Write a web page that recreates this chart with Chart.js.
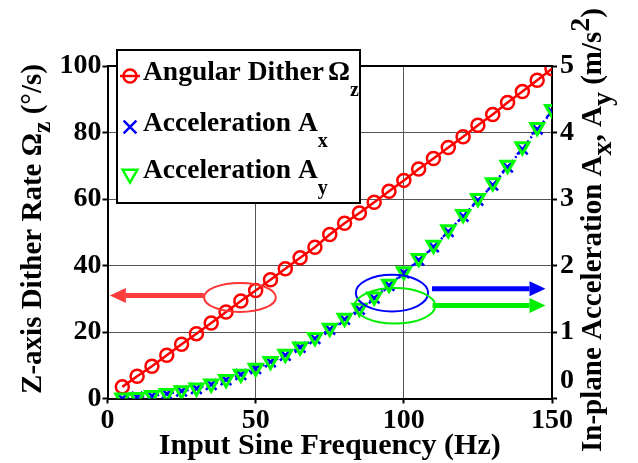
<!DOCTYPE html>
<html>
<head>
<meta charset="utf-8">
<script src="https://cdn.jsdelivr.net/npm/chart.js@4.4.0/dist/chart.umd.min.js"></script>
<style>
  html, body { margin: 0; padding: 0; background: #fff; }
</style>
</head>
<body>
<canvas id="chart" width="638" height="463"></canvas>
<script>
// Data
const frequencies = [5, 10, 15, 20, 25, 30, 35, 40, 45, 50, 55, 60, 65, 70, 75,
                     80, 85, 90, 95, 100, 105, 110, 115, 120, 125, 130, 135, 140, 145, 150];
const ditherRate = [3.5, 6.7, 9.7, 13.0, 16.3, 19.5, 22.7, 26.0, 29.3, 32.5, 35.7, 39.0, 42.3, 45.5, 49.3,
                    52.7, 55.8, 59.0, 62.3, 65.6, 69.0, 72.2, 75.5, 78.7, 82.2, 85.4, 89.0, 92.3, 95.7, 99.2];
const accelX = [0.00, 0.02, 0.04, 0.07, 0.11, 0.15, 0.21, 0.28, 0.36, 0.45, 0.55, 0.65, 0.77, 0.90, 1.04,
                1.19, 1.34, 1.51, 1.70, 1.89, 2.08, 2.28, 2.51, 2.74, 2.98, 3.21, 3.48, 3.75, 4.05, 4.31];
const accelY = [0.01, 0.02, 0.05, 0.08, 0.12, 0.16, 0.22, 0.29, 0.37, 0.46, 0.56, 0.67, 0.78, 0.92, 1.06,
                1.21, 1.36, 1.53, 1.72, 1.91, 2.11, 2.31, 2.54, 2.77, 3.01, 3.25, 3.51, 3.79, 4.08, 4.35];

const xTicks = [0, 50, 100, 150];
const leftTicks = [0, 20, 40, 60, 80, 100];
const rightTicks = [0, 1, 2, 3, 4, 5];

// Ellipses and arrows, in data units
const ellipses = [
    { axis: 'yL', x: 44.7, y: 30.4, rx: 12.1, ry: 4.35, color: '#ff3333' },
    { axis: 'yR', x: 96.0, y: 1.585, rx: 12.2, ry: 0.275, color: '#0000ff' },
    { axis: 'yR', x: 97.0, y: 1.393, rx: 13.6, ry: 0.267, color: '#00ee00' }
];
const arrows = [
    { axis: 'yL', from: 32.5, to: 0.8, y: 31.0, color: '#ff3b3b' },
    { axis: 'yR', from: 109.5, to: 147.8, y: 1.65, color: '#0000ff' },
    { axis: 'yR', from: 109.7, to: 147.8, y: 1.40, color: '#00ee00' }
];

const FONT = '"Liberation Serif", "Times New Roman", serif';

function toPoints(values) {
    return frequencies.map((f, i) => ({ x: f, y: values[i] }));
}

function setTicks(list) {
    return scale => { scale.ticks = list.map(v => ({ value: v })); };
}

// Text with sub/superscripts: parts = [[text, kind]]
function partSize(kind, size, subScale) {
    return kind ? Math.round(size * subScale) : size;
}

function drawRich(ctx, parts, x, y, size, shift, subScale) {
    let cx = x;
    parts.forEach(([t, kind]) => {
        ctx.font = `bold ${partSize(kind, size, subScale)}px ${FONT}`;
        let dy = 0;
        if (kind === 'sub') dy = shift;
        if (kind === 'sup') dy = -size * 0.4;
        if (kind === 'gap') { cx += Number(t); return; }
        ctx.fillText(t, cx, y + dy);
        cx += ctx.measureText(t).width;
    });
    return cx - x;
}

function richWidth(ctx, parts, size, subScale) {
    let w = 0;
    parts.forEach(([t, kind]) => {
        if (kind === 'gap') { w += Number(t); return; }
        ctx.font = `bold ${partSize(kind, size, subScale)}px ${FONT}`;
        w += ctx.measureText(t).width;
    });
    return w;
}

function drawRotated(ctx, parts, cx, cy, size, shift, subScale) {
    const w = richWidth(ctx, parts, size, subScale);
    ctx.save();
    ctx.translate(cx, cy);
    ctx.rotate(-Math.PI / 2);
    ctx.textBaseline = 'alphabetic';
    ctx.textAlign = 'left';
    drawRich(ctx, parts, -w / 2, 0, size, shift, subScale);
    ctx.restore();
}

const decorPlugin = {
    id: 'decor',
    afterDatasetsDraw(chart) {
        const ctx = chart.ctx;
        const xs = chart.scales.x;
        ctx.save();
        ellipses.forEach(e => {
            const ys = chart.scales[e.axis];
            const cx = xs.getPixelForValue(e.x);
            const cy = ys.getPixelForValue(e.y);
            const rx = Math.abs(xs.getPixelForValue(e.x + e.rx) - cx);
            const ry = Math.abs(ys.getPixelForValue(e.y + e.ry) - cy);
            ctx.beginPath();
            ctx.ellipse(cx, cy, rx, ry, 0, 0, Math.PI * 2);
            ctx.strokeStyle = e.color;
            ctx.lineWidth = 2;
            ctx.stroke();
        });
        arrows.forEach(a => {
            const ys = chart.scales[a.axis];
            const x0 = xs.getPixelForValue(a.from);
            const x1 = xs.getPixelForValue(a.to);
            const y = ys.getPixelForValue(a.y);
            const dir = Math.sign(x1 - x0);
            const head = 16;
            ctx.beginPath();
            ctx.moveTo(x0, y);
            ctx.lineTo(x1 - dir * head, y);
            ctx.strokeStyle = a.color;
            ctx.lineWidth = 5;
            ctx.stroke();
            ctx.beginPath();
            ctx.moveTo(x1, y);
            ctx.lineTo(x1 - dir * head, y - 7.5);
            ctx.lineTo(x1 - dir * head, y + 7.5);
            ctx.closePath();
            ctx.fillStyle = a.color;
            ctx.fill();
        });
        ctx.restore();
    },
    afterDraw(chart) {
        const ctx = chart.ctx;
        const area = chart.chartArea;
        const yR = chart.scales.yR;
        ctx.save();

        // top frame line
        ctx.strokeStyle = '#000';
        ctx.lineWidth = 2;
        ctx.beginPath();
        ctx.moveTo(area.left, area.top);
        ctx.lineTo(area.right, area.top);
        ctx.stroke();

        // right axis "0" sits a little above the corner
        ctx.fillStyle = '#000';
        ctx.font = `bold 28px ${FONT}`;
        ctx.textAlign = 'left';
        ctx.textBaseline = 'middle';
        ctx.fillText('0', yR.left + 8, yR.getPixelForValue(0) - 18);

        // axis titles
        ctx.textAlign = 'left';
        ctx.textBaseline = 'alphabetic';
        const xTitle = 'Input Sine Frequency (Hz)';
        ctx.font = `bold 30px ${FONT}`;
        const xw = ctx.measureText(xTitle).width;
        ctx.fillText(xTitle, (area.left + area.right) / 2 - xw / 2, 454);

        drawRotated(ctx, [['Z-axis Dither Rate \u03a9', ''], ['z', 'sub'], [' (\u00b0/s)', '']],
            41, 229, 29, 9, 0.9);
        drawRotated(ctx, [['In-plane Acceleration A', ''], ['x', 'sub'], [', A', ''], ['y', 'sub'],
            [' (m/s', ''], ['2', 'sup'], [')', '']],
            601, 230, 29, 10, 0.95);

        // legend box
        const box = { left: 117, top: 50, right: 360, bottom: 203 };
        ctx.fillStyle = '#fff';
        ctx.fillRect(box.left, box.top, box.right - box.left, box.bottom - box.top);
        ctx.strokeStyle = '#000';
        ctx.lineWidth = 2;
        ctx.strokeRect(box.left, box.top, box.right - box.left, box.bottom - box.top);

        const entries = [
            { y: 80, color: '#ff0000', style: 'circle', radius: 6.5, rotation: 0, line: true,
              parts: [['Angular Dither', ''], ['4', 'gap'], ['\u03a9', ''], ['z', 'sub']] },
            { y: 131, color: '#0000ff', style: 'crossRot', radius: 9, rotation: 0, line: false,
              parts: [['Acceleration A', ''], ['x', 'sub']] },
            { y: 178, color: '#00ff00', style: 'triangle', radius: 8.5, rotation: 180, line: false,
              parts: [['Acceleration A', ''], ['y', 'sub']] }
        ];
        entries.forEach(en => {
            const my = en.y - 4;
            ctx.strokeStyle = en.color;
            ctx.fillStyle = 'rgba(0,0,0,0)';
            ctx.lineWidth = 2.5;
            if (en.line) {
                ctx.beginPath();
                ctx.moveTo(120, my);
                ctx.lineTo(140, my);
                ctx.stroke();
            }
            Chart.helpers.drawPoint(ctx, {
                pointStyle: en.style, radius: en.radius, rotation: en.rotation, borderWidth: 3
            }, 130, my);
            ctx.fillStyle = '#000';
            ctx.textAlign = 'left';
            ctx.textBaseline = 'alphabetic';
            drawRich(ctx, en.parts, 143, en.y, 27.5, 16, 0.72);
        });
        ctx.restore();
    }
};

function initializeChart() {
    const ctx = document.getElementById('chart').getContext('2d');
    const tickFont = { family: FONT, size: 28, weight: 'bold' };

    new Chart(ctx, {
        type: 'line',
        data: {
            datasets: [{
                label: 'Acceleration Ay',
                data: toPoints(accelY),
                yAxisID: 'yR',
                showLine: false,
                pointStyle: 'triangle',
                rotation: 180,
                radius: 7.5,
                borderColor: '#00ff00',
                backgroundColor: 'rgba(0,0,0,0)',
                borderWidth: 3,
                order: 0
            }, {
                label: 'Acceleration Ax',
                data: toPoints(accelX),
                yAxisID: 'yR',
                pointStyle: 'crossRot',
                radius: 7.5,
                borderColor: '#0000ff',
                pointBorderColor: '#0000ff',
                backgroundColor: 'rgba(0,0,0,0)',
                borderWidth: 2.5,
                pointBorderWidth: 2.5,
                borderDash: [2, 3],
                order: 1
            }, {
                label: 'Angular Dither',
                data: toPoints(ditherRate),
                yAxisID: 'yL',
                pointStyle: 'circle',
                radius: 6.5,
                borderColor: '#ff0000',
                backgroundColor: 'rgba(0,0,0,0)',
                borderWidth: 2.5,
                pointBorderWidth: 2.5,
                order: 2
            }]
        },
        options: {
            responsive: false,
            animation: false,
            layout: { padding: { top: 66, left: 0, right: 0, bottom: 0 } },
            plugins: {
                legend: { display: false },
                tooltip: { enabled: false }
            },
            elements: { line: { tension: 0 } },
            scales: {
                x: {
                    type: 'linear',
                    min: 0,
                    max: 150,
                    afterBuildTicks: setTicks(xTicks),
                    afterFit: s => { s.height = 64.5; },
                    grid: { color: '#555', lineWidth: 1, tickLength: 5, tickColor: '#000', tickWidth: 2 },
                    border: { color: '#000', width: 2 },
                    ticks: { font: tickFont, color: '#000', padding: 0, maxRotation: 0 }
                },
                yL: {
                    type: 'linear',
                    position: 'left',
                    min: 0,
                    max: 100,
                    afterBuildTicks: setTicks(leftTicks),
                    afterFit: s => { s.width = 107.5; },
                    grid: { color: '#555', lineWidth: 1, tickLength: 5, tickColor: '#000', tickWidth: 2 },
                    border: { color: '#000', width: 2 },
                    ticks: { font: tickFont, color: '#000', padding: 1 }
                },
                yR: {
                    type: 'linear',
                    position: 'right',
                    min: 0,
                    max: 5,
                    afterBuildTicks: setTicks(rightTicks),
                    afterFit: s => { s.width = 86; },
                    grid: { drawOnChartArea: false, tickLength: 5, tickColor: '#000', tickWidth: 2 },
                    border: { color: '#000', width: 2 },
                    ticks: {
                        font: tickFont, color: '#000', padding: 3,
                        callback: v => (v === 0 ? '' : String(v))
                    }
                }
            }
        },
        plugins: [decorPlugin]
    });
}

document.addEventListener('DOMContentLoaded', initializeChart);
</script>
</body>
</html>
